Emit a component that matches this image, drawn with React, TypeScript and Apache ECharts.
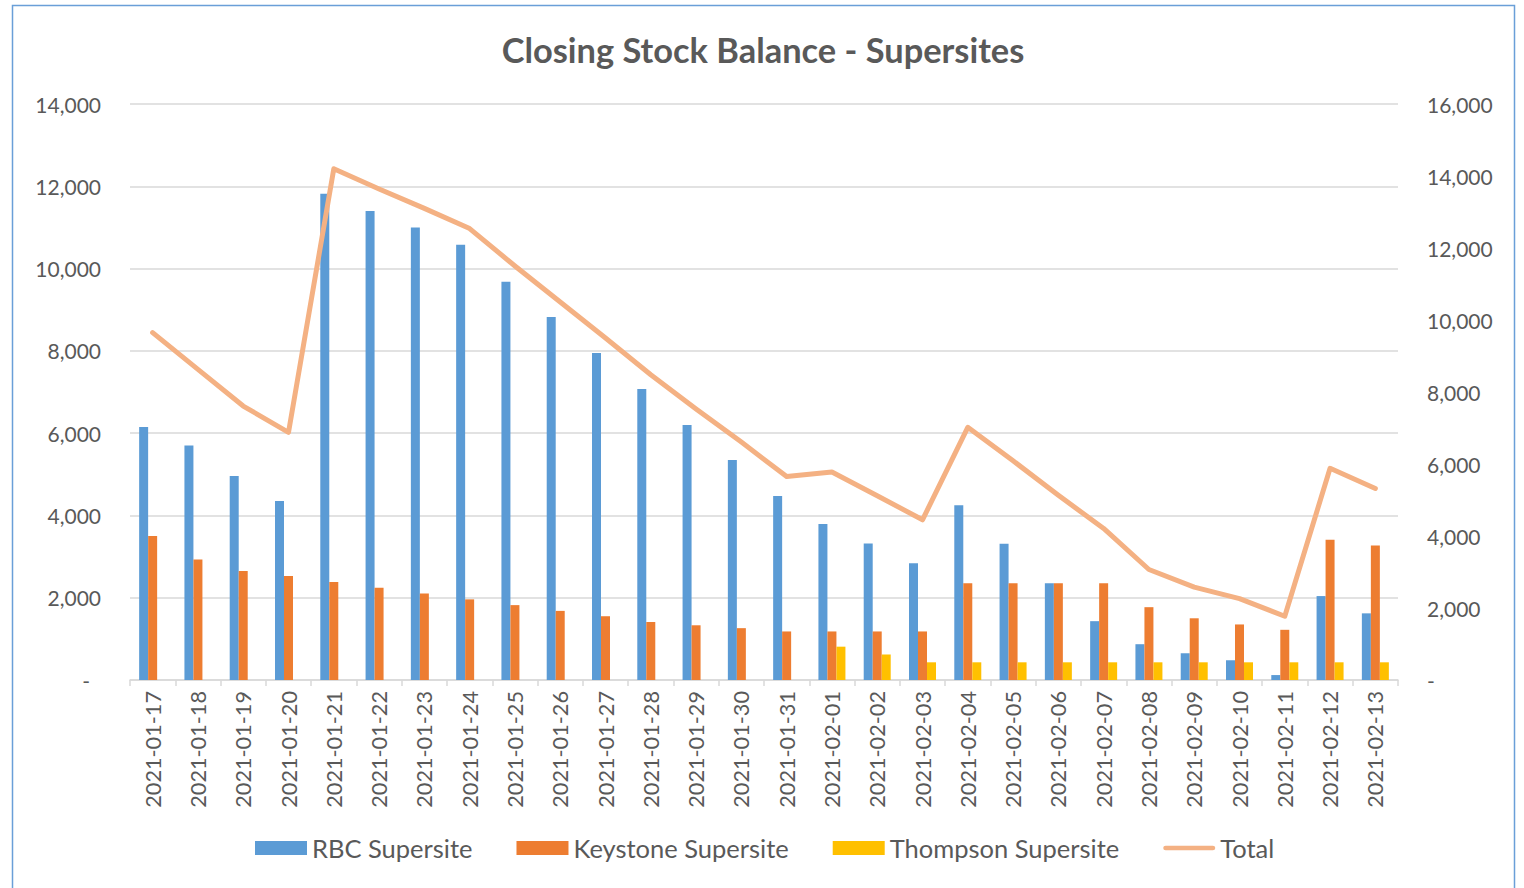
import React, { useEffect, useRef } from "react";
import * as echarts from "echarts";

const categories = [
  "2021-01-17", "2021-01-18", "2021-01-19", "2021-01-20", "2021-01-21", "2021-01-22", "2021-01-23",
  "2021-01-24", "2021-01-25", "2021-01-26", "2021-01-27", "2021-01-28", "2021-01-29", "2021-01-30",
  "2021-01-31", "2021-02-01", "2021-02-02", "2021-02-03", "2021-02-04", "2021-02-05", "2021-02-06",
  "2021-02-07", "2021-02-08", "2021-02-09", "2021-02-10", "2021-02-11", "2021-02-12", "2021-02-13",
];

const rbc = [
  6150, 5700, 4960, 4350, 11820, 11400, 11000, 10580, 9680, 8820, 7950, 7070, 6200, 5350,
  4470, 3790, 3320, 2840, 4250, 3310, 2350, 1430, 870, 650, 480, 120, 2040, 1620,
];

const keystone = [
  3500, 2930, 2650, 2530, 2380, 2240, 2100, 1960, 1820, 1680, 1550, 1410, 1330, 1260,
  1180, 1180, 1180, 1180, 2350, 2350, 2350, 2350, 1770, 1500, 1350, 1220, 3410, 3270,
];

const thompson = [
  0, 0, 0, 0, 0, 0, 0, 0, 0, 0, 0, 0, 0, 0,
  0, 810, 620, 430, 430, 430, 430, 430, 430, 430, 430, 430, 430, 430,
];

const total = [
  9650, 8630, 7610, 6880, 14200, 13640, 13100, 12540, 11500, 10500, 9500, 8480, 7530, 6610,
  5650, 5780, 5120, 4450, 7020, 6090, 5130, 4210, 3070, 2580, 2260, 1770, 5880, 5320,
];

const FONT = "Lato";
const TEXT = "#595959";
const GRID = "#d9d9d9";

function fmt(v: number) {
  if (v === 0) return "-";
  return v.toLocaleString("en-US");
}

export default function App() {
  const ref = useRef<HTMLDivElement>(null);
  useEffect(() => {
    if (!ref.current) return;
    const chart = echarts.init(ref.current, null, { renderer: "svg" });
    chart.setOption({
      animation: false,
      backgroundColor: "#ffffff",
      title: {
        text: "Closing Stock Balance - Supersites",
        left: 758,
        textAlign: "center",
        top: 27,
        textStyle: { fontFamily: FONT, fontSize: 34.4, fontWeight: "bold", color: TEXT },
      },
      graphic: [
        {
          type: "rect",
          shape: { x: 12.5, y: 5.5, width: 1502, height: 900 },
          style: { fill: "none", stroke: "#6a9fd8", lineWidth: 1.5 },
          silent: true,
        },
      ],
      grid: { left: 130, right: 126, top: 104, bottom: 208 },
      legend: {
        left: 255,
        top: 835,
        padding: 0,
        itemWidth: 52,
        itemHeight: 14,
        itemGap: 44,
        textStyle: { fontFamily: FONT, fontSize: 25.5, color: TEXT },
        data: [
          { name: "RBC Supersite", icon: "rect" },
          { name: "Keystone Supersite", icon: "rect" },
          { name: "Thompson Supersite", icon: "rect" },
          {
            name: "Total",
            icon: "path://M2.5,0H53.5A2.5,2.5,0,0,1,53.5,5H2.5A2.5,2.5,0,0,1,2.5,0Z",
          },
        ],
      },
      xAxis: {
        type: "category",
        data: categories,
        boundaryGap: true,
        axisLine: { lineStyle: { color: GRID, width: 1.5 } },
        axisTick: { show: true, length: 6, lineStyle: { color: GRID, width: 1.5 } },
        axisLabel: {
          rotate: 90,
          interval: 0,
          margin: 11,
          fontFamily: FONT,
          fontSize: 21.7,
          color: TEXT,
        },
      },
      yAxis: [
        {
          type: "value",
          min: 0,
          max: 14000,
          interval: 2000,
          axisLine: { show: false },
          axisTick: { show: false },
          splitLine: { lineStyle: { color: GRID, width: 1.5 } },
          axisLabel: {
            margin: 29,
            fontFamily: FONT,
            fontSize: 21,
            color: TEXT,
            formatter: (v: number) => (v === 0 ? "{d|-}" : fmt(v)),
            rich: { d: { fontFamily: FONT, fontSize: 21, color: TEXT, padding: [0, 11, 0, 0] } },
          },
        },
        {
          type: "value",
          min: 0,
          max: 16000,
          interval: 2000,
          axisLine: { show: false },
          axisTick: { show: false },
          splitLine: { show: false },
          axisLabel: {
            margin: 29,
            fontFamily: FONT,
            fontSize: 21,
            color: TEXT,
            formatter: (v: number) => fmt(v),
          },
        },
      ],
      series: [
        {
          name: "RBC Supersite",
          type: "bar",
          data: rbc,
          barWidth: 9,
          barGap: "0%",
          itemStyle: { color: "#5b9bd5" },
        },
        {
          name: "Keystone Supersite",
          type: "bar",
          data: keystone,
          barWidth: 9,
          barGap: "0%",
          itemStyle: { color: "#ed7d31" },
        },
        {
          name: "Thompson Supersite",
          type: "bar",
          data: thompson,
          barWidth: 9,
          barGap: "0%",
          itemStyle: { color: "#ffc000" },
        },
        {
          name: "Total",
          type: "line",
          yAxisIndex: 1,
          data: total,
          symbol: "none",
          showSymbol: false,
          lineStyle: { color: "#f4b183", width: 5, cap: "round", join: "round" },
          itemStyle: { color: "#f4b183" },
          z: 5,
        },
      ],
    });
    return () => chart.dispose();
  }, []);
  return (
    <div
      ref={ref}
      style={{ position: "fixed", left: 0, top: 0, width: 1524, height: 888 }}
    />
  );
}
